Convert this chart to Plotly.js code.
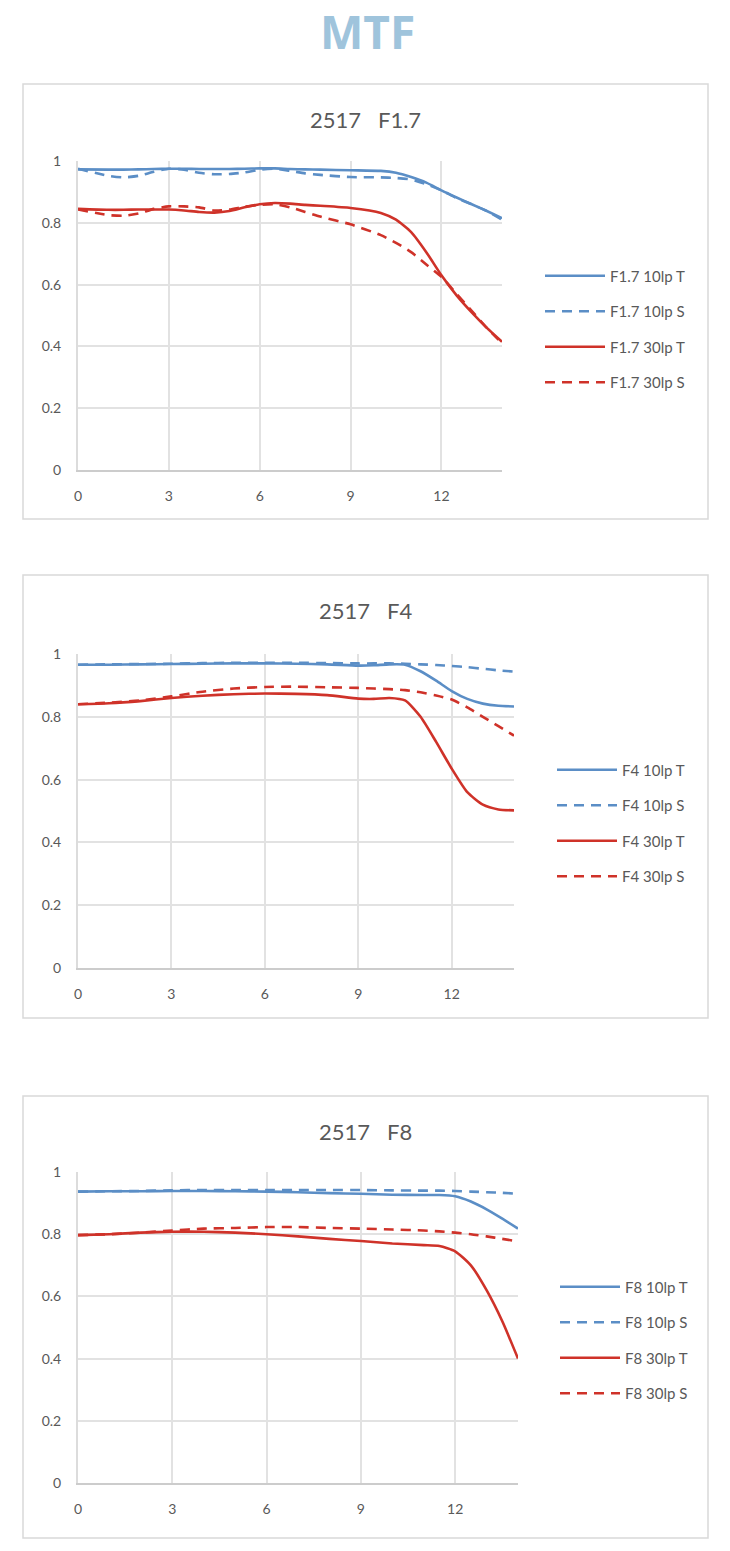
<!DOCTYPE html>
<html>
<head>
<meta charset="utf-8">
<script src="https://cdn.plot.ly/plotly-3.0.1.min.js"></script>
<style>
  body { margin: 0; background: #fff; }
  #mtf { width: 730px; height: 1551px; }
</style>
</head>
<body>
<div id="mtf"></div>
<script>
// F1.7
const xF17 = [0, 1, 1.5, 2, 2.5, 3, 3.5, 4, 4.5, 5, 5.5, 6, 6.5, 7, 7.5, 8, 9, 10, 10.5, 11, 11.5, 12, 12.5, 13, 13.5, 14];
const f17_10T = [0.973, 0.972, 0.972, 0.973, 0.974, 0.975, 0.975, 0.974, 0.974, 0.974, 0.975, 0.976, 0.976, 0.974, 0.973, 0.972, 0.970, 0.968, 0.962, 0.948, 0.930, 0.905, 0.882, 0.860, 0.838, 0.815];
const f17_10S = [0.975, 0.952, 0.947, 0.952, 0.965, 0.975, 0.972, 0.962, 0.957, 0.958, 0.963, 0.972, 0.975, 0.968, 0.960, 0.955, 0.948, 0.947, 0.945, 0.940, 0.925, 0.905, 0.880, 0.860, 0.838, 0.810];
const f17_30T = [0.845, 0.842, 0.842, 0.843, 0.843, 0.843, 0.840, 0.835, 0.833, 0.838, 0.850, 0.860, 0.864, 0.862, 0.858, 0.855, 0.848, 0.832, 0.810, 0.770, 0.705, 0.630, 0.565, 0.510, 0.460, 0.415];
const f17_30S = [0.843, 0.825, 0.823, 0.830, 0.845, 0.853, 0.853, 0.850, 0.840, 0.843, 0.852, 0.858, 0.860, 0.850, 0.835, 0.820, 0.795, 0.760, 0.735, 0.705, 0.665, 0.625, 0.570, 0.515, 0.460, 0.410];

// F4
const xF4 = [0, 1, 2, 3, 4, 5, 6, 7, 8, 9, 9.5, 10, 10.5, 11, 11.5, 12, 12.5, 13, 13.5, 14];
const f4_10T = [0.966, 0.966, 0.967, 0.968, 0.969, 0.970, 0.970, 0.969, 0.967, 0.963, 0.964, 0.967, 0.966, 0.945, 0.915, 0.882, 0.857, 0.842, 0.835, 0.833];
const f4_10S = [0.966, 0.967, 0.968, 0.969, 0.971, 0.972, 0.972, 0.972, 0.971, 0.970, 0.970, 0.970, 0.969, 0.967, 0.965, 0.962, 0.958, 0.953, 0.948, 0.944];
const f4_30T = [0.840, 0.843, 0.850, 0.860, 0.867, 0.872, 0.874, 0.873, 0.869, 0.858, 0.857, 0.860, 0.852, 0.800, 0.720, 0.635, 0.560, 0.520, 0.505, 0.502];
const f4_30S = [0.840, 0.845, 0.852, 0.865, 0.880, 0.890, 0.895, 0.896, 0.894, 0.892, 0.890, 0.888, 0.885, 0.878, 0.868, 0.855, 0.830, 0.800, 0.770, 0.740];

// F8
const xF8 = [0, 1, 2, 3, 4, 5, 6, 7, 8, 9, 10, 11, 11.5, 12, 12.5, 13, 13.5, 14];
const f8_10T = [0.937, 0.938, 0.938, 0.939, 0.939, 0.938, 0.937, 0.935, 0.932, 0.930, 0.927, 0.926, 0.926, 0.922, 0.905, 0.880, 0.850, 0.818];
const f8_10S = [0.937, 0.938, 0.939, 0.941, 0.942, 0.942, 0.942, 0.942, 0.942, 0.942, 0.941, 0.940, 0.940, 0.939, 0.937, 0.935, 0.933, 0.930];
const f8_30T = [0.797, 0.800, 0.805, 0.808, 0.808, 0.805, 0.800, 0.793, 0.785, 0.778, 0.770, 0.765, 0.762, 0.745, 0.700, 0.620, 0.520, 0.400];
const f8_30S = [0.797, 0.800, 0.805, 0.812, 0.818, 0.820, 0.823, 0.823, 0.820, 0.818, 0.815, 0.812, 0.809, 0.805, 0.800, 0.793, 0.785, 0.777];

const xTicks = [0, 3, 6, 9, 12];
const yTicks = [0, 0.2, 0.4, 0.6, 0.8, 1];

const W = 730, H = 1551;
const BLUE = '#5b8ec6';
const RED = '#cf3229';
const GREY = '#595959';
const FONT = 'Lato, "Open Sans", sans-serif';

// pixel -> paper helpers
const px = (v) => v / W;
const py = (v) => 1 - v / H;

const panels = [
  { name: 'F1.7', x: xF17, series: [f17_10T, f17_10S, f17_30T, f17_30S], plot: [78, 502, 161, 470], box: [23, 708, 84, 519], legend: [540, 329], title: 119 },
  { name: 'F4', x: xF4, series: [f4_10T, f4_10S, f4_30T, f4_30S], plot: [78, 514, 654, 968], box: [23, 708, 575, 1018], legend: [552, 823], title: 610 },
  { name: 'F8', x: xF8, series: [f8_10T, f8_10S, f8_30T, f8_30S], plot: [78, 518, 1172, 1483], box: [23, 708, 1096, 1538], legend: [555, 1340], title: 1131 }
];

const styles = [
  { label: '10lp T', color: BLUE, dash: 'solid' },
  { label: '10lp S', color: BLUE, dash: '10px,7px' },
  { label: '30lp T', color: RED, dash: 'solid' },
  { label: '30lp S', color: RED, dash: '10px,7px' }
];

const data = [];
const layout = {
  width: W,
  height: H,
  margin: { l: 0, r: 0, t: 0, b: 0 },
  paper_bgcolor: '#fff',
  plot_bgcolor: '#fff',
  font: { family: FONT, color: GREY, size: 14 },
  shapes: [],
  annotations: [{
    text: '<b>MTF</b>', x: px(367), y: py(31), xref: 'paper', yref: 'paper',
    xanchor: 'center', yanchor: 'middle',
    showarrow: false, font: { size: 46, color: '#9fc4dc', family: '"Open Sans", Lato, sans-serif' }
  }]
};

panels.forEach((p, i) => {
  const n = i === 0 ? '' : String(i + 1);
  const xa = 'x' + n, ya = 'y' + n;
  const lg = 'legend' + n;

  p.series.forEach((vals, j) => {
    data.push({
      x: p.x,
      y: vals,
      xaxis: xa,
      yaxis: ya,
      name: p.name + ' ' + styles[j].label,
      type: 'scatter',
      mode: 'lines',
      line: { color: styles[j].color, width: 2.6, dash: styles[j].dash, shape: 'spline', smoothing: 0.6 },
      legend: lg,
      legendgroup: p.name + j
    });
  });

  layout['xaxis' + n] = {
    domain: [px(p.plot[0]), px(p.plot[1])],
    anchor: ya,
    range: [0, 14],
    tickvals: xTicks,
    showgrid: true,
    gridcolor: '#e2e2e2',
    gridwidth: 2,
    zeroline: false,
    showline: true,
    linecolor: '#cccccc',
    linewidth: 2,
    ticks: '',
    ticklabelstandoff: 12,
    tickfont: { size: 14, color: GREY }
  };
  layout['yaxis' + n] = {
    domain: [py(p.plot[3]), py(p.plot[2])],
    anchor: xa,
    range: [0, 1],
    tickvals: yTicks,
    ticktext: yTicks.map(String),
    showgrid: true,
    gridcolor: '#e2e2e2',
    gridwidth: 2,
    zeroline: false,
    showline: true,
    linecolor: '#dcdcdc',
    linewidth: 2,
    ticks: '',
    ticklabelstandoff: 12,
    tickfont: { size: 14, color: GREY }
  };
  layout[lg] = {
    x: px(p.legend[0]),
    y: py(p.legend[1]),
    xanchor: 'left',
    yanchor: 'middle',
    xref: 'paper',
    yref: 'paper',
    bgcolor: 'rgba(0,0,0,0)',
    font: { size: 15, color: GREY, family: FONT },
    itemwidth: 60,
    tracegroupgap: 13
  };

  layout.shapes.push({
    type: 'rect', xref: 'paper', yref: 'paper',
    x0: px(p.box[0]), x1: px(p.box[1]), y0: py(p.box[3]), y1: py(p.box[2]),
    line: { color: '#d9d9d9', width: 1.5 }, fillcolor: 'rgba(0,0,0,0)', layer: 'below'
  });
  layout.annotations.push({
    text: '2517   ' + p.name, x: px(365), y: py(p.title), xref: 'paper', yref: 'paper',
    xanchor: 'center', yanchor: 'middle',
    showarrow: false, font: { size: 22, color: GREY, family: FONT }
  });
});

Plotly.newPlot('mtf', data, layout, { displayModeBar: false, staticPlot: true });
</script>
</body>
</html>
